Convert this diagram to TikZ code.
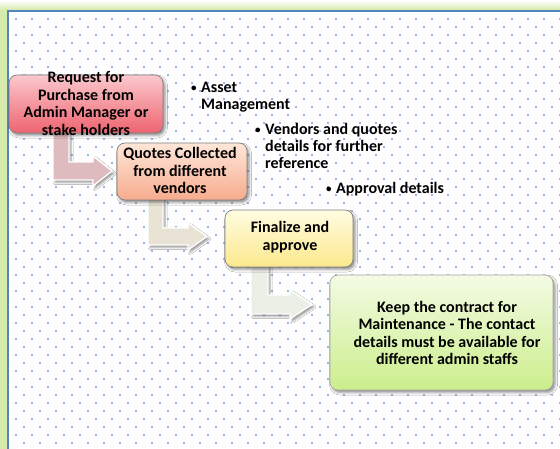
\documentclass[tikz,border=0pt]{standalone}
\usepackage{fontspec}
\setmainfont{Carlito}[BoldFont={Carlito Bold}]
\usetikzlibrary{shadows.blur}

\definecolor{frameGreen}{RGB}{214,234,172}
\definecolor{frameBlue}{RGB}{84,132,192}
\definecolor{dotBlue}{RGB}{118,160,214}
\definecolor{redTop}{RGB}{251,200,205}
\definecolor{redBot}{RGB}{238,100,112}
\definecolor{orTop}{RGB}{254,230,216}
\definecolor{orBot}{RGB}{247,172,142}
\definecolor{yeTop}{RGB}{255,252,226}
\definecolor{yeBot}{RGB}{252,232,140}
\definecolor{grTop}{RGB}{243,251,228}
\definecolor{grBot}{RGB}{204,238,140}
\definecolor{arrRed}{RGB}{221,187,191}
\definecolor{arrBeige}{RGB}{233,227,214}
\definecolor{arrGrey}{RGB}{236,239,230}

% small list bullet followed by the hanging indent
\newcommand\lbul{\makebox[12pt][l]{\hspace{2pt}\raisebox{0.6pt}{\fontsize{11}{11}\selectfont\textbullet}}}
\newcommand\lind{\hspace*{12pt}}

\tikzset{
  boxshadow/.style={blur shadow={shadow xshift=2pt, shadow yshift=-2.5pt,
      shadow blur radius=2.5pt, shadow opacity=45}},
  stepbox/.style={rounded corners=8pt, draw=black!50, line width=0.7pt,
      boxshadow, inner sep=0pt},
  blockarrow/.style={draw=white, line width=1.3pt, line join=miter,
      blur shadow={shadow xshift=2pt, shadow yshift=-2.5pt,
      shadow blur radius=2pt, shadow opacity=40}},
  lbl/.style={font=\bfseries\fontsize{16}{17.5}\selectfont, align=center,
      inner sep=0pt},
  bul/.style={font=\bfseries\fontsize{16}{17}\selectfont, align=left,
      inner sep=0pt, anchor=west},
}

\begin{document}
\begin{tikzpicture}[x=1pt,y=-1pt]
\useasboundingbox (0,0) rectangle (560,449);

% frame: green glow band, blue rule, white sheet
\fill[frameGreen] (0,0) rectangle (560,449);
\shade[top color=white, bottom color=frameGreen] (0,0) rectangle (560,10);
\fill[white] (9,12) rectangle (560,449);
\draw[frameBlue, line width=2.5pt] (8,449) -- (8,11) -- (560,11);

% staggered dot grid
\begin{scope}
  \clip (10,13) rectangle (560,449);
  \foreach \j in {0,...,54}{
    \foreach \k in {0,...,35}{
      \fill[dotBlue] ({16+16*\k+8*mod(\j,2)},{19+8*\j}) circle[radius=1.1pt];
    }
  }
\end{scope}

% bent block arrows between the steps
\fill[arrRed, blockarrow]
  (53,128) -- (69,128) -- (69,162) -- (93,162) -- (93,156) -- (112,171)
  -- (93,186) -- (93,180) -- (53,180) -- cycle;
\fill[arrBeige, blockarrow]
  (148,195) -- (163,195) -- (163,228) -- (188,228) -- (188,223) -- (207,236.5)
  -- (188,250) -- (188,245) -- (148,245) -- cycle;
\fill[arrGrey, blockarrow]
  (251,262) -- (268,262) -- (268,295) -- (290,295) -- (290,290) -- (312,304.5)
  -- (290,319) -- (290,314) -- (251,314) -- cycle;

% step boxes
\node[stepbox, top color=redTop, bottom color=redBot,
      minimum width=154pt, minimum height=58pt] (b1) at (86,104) {};
\node[stepbox, top color=orTop, bottom color=orBot,
      minimum width=130pt, minimum height=57pt] (b2) at (182,171.5) {};
\node[stepbox, top color=yeTop, bottom color=yeBot,
      minimum width=128pt, minimum height=57pt] (b3) at (289,238.5) {};
\node[stepbox, draw=black!35, top color=grTop, bottom color=grBot,
      minimum width=223pt, minimum height=115pt] (b4) at (441.5,332.5) {};

% step texts
\node[lbl] (t1) at (86,103.5) {Request for\\Purchase from\\Admin Manager or\\stake holders};
\node[lbl] (t2) at (180,170.5) {Quotes Collected\\from different\\vendors};
\node[lbl] (t3) at (290,237) {Finalize and\\approve};
\node[lbl] (t4) at (447,333) {Keep the contract for\\Maintenance - The contact\\details must be available for\\different admin staffs};

% bullet notes
\node[bul] (n1) at (189,97) {\lbul Asset\\\lind Management};
\node[bul] (n2) at (253,146) {\lbul Vendors and quotes\\\lind details for further\\\lind reference};
\node[bul] (n3) at (324,189) {\lbul Approval details};
\end{tikzpicture}
\end{document}
